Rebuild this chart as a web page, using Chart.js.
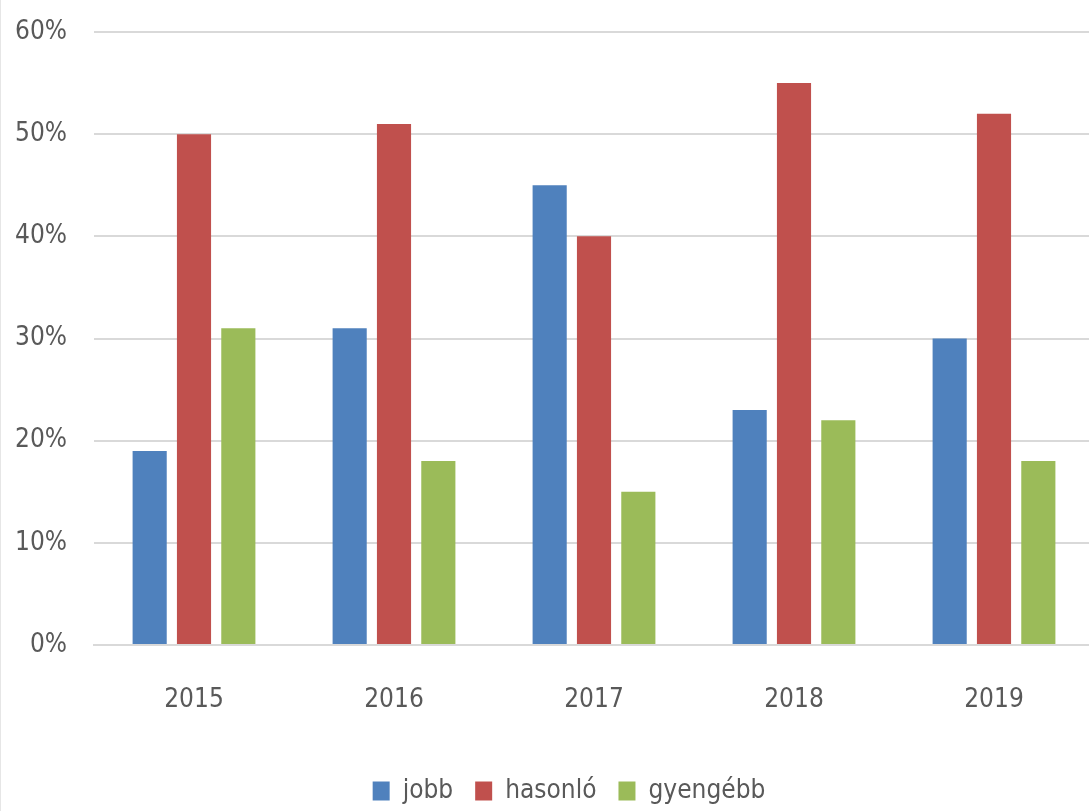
<!DOCTYPE html>
<html>
<head>
<meta charset="utf-8">
<script src="https://cdn.jsdelivr.net/npm/chart.js@4"></script>
<style>
  html, body { margin: 0; padding: 0; background: #fff; overflow: hidden; }
  #wrap { position: absolute; left: 0; top: 0; width: 1138px; height: 811px; }
  #edge { position: absolute; left: 0; top: 0; width: 1px; height: 811px; background: #e6e6e6; }
</style>
</head>
<body>
<div id="wrap"><canvas id="c" width="1138" height="811"></canvas></div>
<div id="edge"></div>
<script>
const categories = ['2015', '2016', '2017', '2018', '2019'];
const seriesNames = ['jobb', 'hasonló', 'gyengébb'];
const jobb = [19, 31, 45, 23, 30];
const hasonlo = [50, 51, 40, 55, 52];
const gyengebb = [31, 18, 15, 22, 18];
const yTicks = [0, 10, 20, 30, 40, 50, 60];

const colors = ['#4f81bd', '#c0504d', '#9bbb59'];
const FONT = '"Liberation Sans Narrow", "DejaVu Sans Condensed", "Liberation Sans", sans-serif';
const TEXT = '#595959';

const values = [jobb, hasonlo, gyengebb];
const datasets = seriesNames.map((name, i) => ({
  label: name,
  data: values[i],
  backgroundColor: colors[i],
  borderWidth: 0,
  categoryPercentage: 0.665,
  barPercentage: 0.77
}));

new Chart(document.getElementById('c'), {
  type: 'bar',
  data: { labels: categories, datasets },
  options: {
    responsive: false,
    animation: false,
    devicePixelRatio: 1,
    layout: { padding: { top: 32, left: 0, right: 0, bottom: -3 } },
    plugins: {
      tooltip: { enabled: false },
      legend: {
        position: 'bottom',
        labels: {
          color: TEXT,
          font: { family: FONT, size: 26 },
          boxWidth: 17,
          boxHeight: 19,
          padding: 22
        }
      }
    },
    scales: {
      x: {
        grid: { display: false },
        border: { display: true, color: '#d9d9d9', width: 2 },
        ticks: { color: TEXT, font: { family: FONT, size: 26 }, padding: 32, maxRotation: 0 },
        afterFit: (s) => { s.height = 111; }
      },
      y: {
        min: 0,
        max: 60,
        afterBuildTicks: (s) => { s.ticks = yTicks.map(v => ({ value: v })); },
        grid: { color: '#d9d9d9', lineWidth: 2, drawTicks: false },
        border: { display: false },
        ticks: {
          color: TEXT,
          font: { family: FONT, size: 26 },
          padding: 27,
          callback: (v) => v + '%'
        },
        afterFit: (s) => { s.width = 94; s.paddingTop = 0; s.paddingBottom = 0; }
      },
      y2: {
        position: 'right',
        display: true,
        grid: { display: false },
        border: { display: false },
        ticks: { display: false },
        afterFit: (s) => { s.width = 44; s.paddingTop = 0; s.paddingBottom = 0; }
      }
    }
  }
});
</script>
</body>
</html>
